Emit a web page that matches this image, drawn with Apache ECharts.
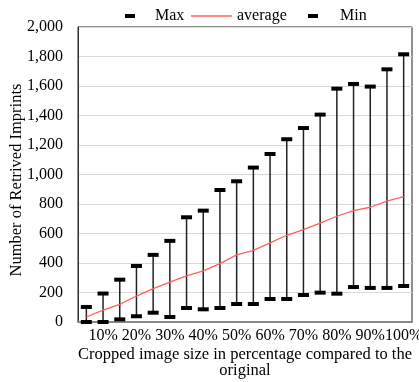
<!DOCTYPE html>
<html><head><meta charset="utf-8">
<script src="https://cdn.jsdelivr.net/npm/echarts@6/dist/echarts.min.js"></script>
<style>html,body{margin:0;padding:0;background:#fff}#c{width:419px;height:382px}</style>
</head><body><div id="c"></div>
<script>
const categories = ['5%','10%','15%','20%','25%','30%','35%','40%','45%','50%','55%','60%','65%','70%','75%','80%','85%','90%','95%','100%'];
const maxVals = [102,193,287,380,455,550,710,755,895,954,1047,1139,1239,1315,1406,1582,1614,1596,1713,1815];
const minVals = [0,0,18,39,63,34,95,86,95,122,122,156,156,183,199,192,237,231,231,244];
const avgVals = [34,80,120,176,226,271,312,346,396,455,486,536,588,626,671,717,755,778,820,850];
const yTicks = [0,200,400,600,800,1000,1200,1400,1600,1800,2000];

const font = '"Liberation Serif","Times New Roman",serif';
const chart = echarts.init(document.getElementById('c'), null, {renderer:'canvas'});
const rangeData = categories.map((c,i)=>[i, minVals[i], maxVals[i]]);
chart.setOption({
  animation:false,
  textStyle:{fontFamily:font},
  grid:{left:78,right:7,top:27,bottom:60,show:true,borderColor:'#222',borderWidth:1,
        containLabel:false,outerBoundsMode:'none'},
  legend:[
    {data:[{name:'Max',icon:'rect'}],left:120,top:3,itemWidth:10,itemHeight:4,
     textStyle:{fontFamily:font,fontSize:16,color:'#000',padding:[0,0,0,15]}},
    {data:[{name:'average',icon:'rect',itemStyle:{color:'#ff6060'}}],left:186,top:3,itemWidth:41,itemHeight:1.5,
     textStyle:{fontFamily:font,fontSize:16,color:'#000'}},
    {data:[{name:'Min',icon:'rect'}],left:303,top:3,itemWidth:10,itemHeight:4,
     textStyle:{fontFamily:font,fontSize:16,color:'#000',padding:[0,0,0,17]}}
  ],
  xAxis:{type:'category',data:categories,boundaryGap:true,
    axisLine:{lineStyle:{color:'#888',width:2}},axisTick:{show:false},
    axisLabel:{interval:(i)=>i%2===1,fontFamily:font,fontSize:16,color:'#000',margin:6,hideOverlap:false},
    name:'Cropped image size in percentage compared to the\noriginal',
    nameLocation:'middle',nameGap:25,nameMoveOverlap:false,
    nameTextStyle:{fontFamily:font,fontSize:16.5,color:'#000',lineHeight:16}},
  yAxis:{type:'value',min:yTicks[0],max:yTicks[yTicks.length-1],interval:200,
    axisLine:{show:true,lineStyle:{color:'#333'}},axisTick:{show:false},
    splitLine:{lineStyle:{color:'#d9d9d9'}},
    axisLabel:{fontFamily:font,fontSize:16,color:'#000',margin:15,
      formatter:(v)=>v.toLocaleString('en-US')},
    name:'Number of Retrived Imprints',nameLocation:'middle',nameGap:53,nameMoveOverlap:false,
    nameTextStyle:{fontFamily:font,fontSize:16.5,color:'#000',padding:[0,11,0,0]}},
  series:[
    {name:'range',type:'custom',data:rangeData,z:2,
     renderItem:(params,api)=>{
       const p1=api.coord([api.value(0),api.value(1)]);
       const p2=api.coord([api.value(0),api.value(2)]);
       return {type:'line',shape:{x1:p1[0],y1:p1[1],x2:p2[0],y2:p2[1]},
         style:{stroke:'#222',lineWidth:1.5}};
     }},
    {name:'Max',type:'line',data:maxVals,symbol:'rect',symbolSize:[11,4],
     itemStyle:{color:'#000'},lineStyle:{opacity:0},z:3},
    {name:'average',type:'line',data:avgVals,symbol:'none',
     itemStyle:{color:'#ff6060'},lineStyle:{color:'#ff6060',width:1.3},z:4},
    {name:'Min',type:'line',data:minVals,symbol:'rect',symbolSize:[11,4],
     itemStyle:{color:'#000'},lineStyle:{opacity:0},z:3}
  ]
});
</script></body></html>
